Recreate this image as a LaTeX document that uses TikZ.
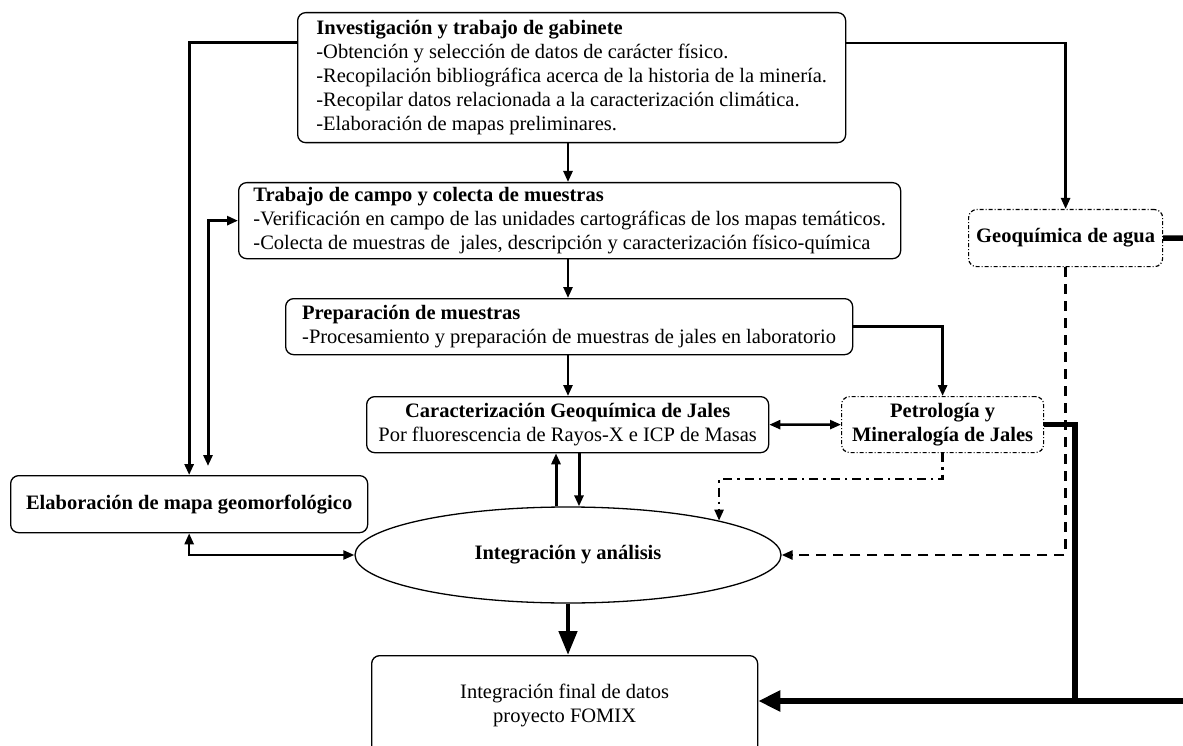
\documentclass[tikz,border=0pt]{standalone}
\usepackage{fontspec}
\setmainfont{Liberation Serif}
\usetikzlibrary{arrows.meta,shapes.geometric,calc}

\begin{document}
\begin{tikzpicture}[x=1pt,y=-1pt,
  every node/.style={font=\fontsize{20.5}{24}\selectfont},
  box/.style={draw, rounded corners=8pt, line width=1.3pt, inner xsep=4pt, inner ysep=2pt,
              align=left, anchor=north west},
  cbox/.style={box, align=center},
  dbox/.style={cbox, dash pattern=on 4pt off 2pt on 1pt off 2pt, line width=1.2pt},
  tip/.style={-{Triangle[length=11pt,width=9pt]}},
  tips/.style={{Triangle[length=11pt,width=9pt]}-{Triangle[length=11pt,width=9pt]}},
  link/.style={tip, line width=2.4pt},
  heavy/.style={line width=5.5pt},
  dashdotline/.style={tip, line width=2.4pt, dash pattern=on 9pt off 5pt on 2.5pt off 5pt},
  dashline/.style={tip, line width=2.6pt, dash pattern=on 10pt off 7pt},
]
\useasboundingbox (0,0) rectangle (1183,746);

% main sequence of work stages
\node[box, minimum width=548, minimum height=130] (gab) at (297,12)
  {\textbf{Investigación y trabajo de gabinete}\\
   -Obtención y selección de datos de carácter físico.\\
   -Recopilación bibliográfica acerca de la historia de la minería.\\
   -Recopilar datos relacionada a la caracterización climática.\\
   -Elaboración de mapas preliminares.};
\node[box, minimum width=662, minimum height=76] (campo) at (238,182)
  {\textbf{Trabajo de campo y colecta de muestras}\\
   -Verificación en campo de las unidades cartográficas de los mapas temáticos.\\
   -Colecta de muestras de\ \ jales, descripción y caracterización físico-química};
\node[box, minimum width=567, minimum height=56] (prep) at (285,298)
  {\textbf{Preparación de muestras}\\
   -Procesamiento y preparación de muestras de jales en laboratorio};
\node[cbox, minimum width=402, minimum height=56] (carac) at (366,396)
  {\textbf{Caracterización Geoquímica de Jales}\\
   Por fluorescencia de Rayos-X e ICP de Masas};

% side analyses
\node[dbox, minimum width=202, minimum height=56] (petro) at (841,396)
  {\textbf{Petrología y}\\ \textbf{Mineralogía de Jales}};
\node[dbox, minimum width=194, minimum height=57] (agua) at (968,209)
  {\textbf{Geoquímica de agua}};
\node[cbox, minimum width=357, minimum height=57] (geomorf) at (10,475)
  {\textbf{Elaboración de mapa geomorfológico}};

% integration
\node[draw, ellipse, line width=1.3pt, minimum width=426, minimum height=96, inner sep=0pt]
  (integ) at (568,555) {\textbf{Integración y análisis}};
\node[cbox, minimum width=386, minimum height=100] (final) at (371,655)
  {\raisebox{5pt}{\begin{tabular}{@{}c@{}}Integración final de datos\\ proyecto FOMIX\end{tabular}}};

% loose ends of the heavy lines at the right margin
\coordinate (edgeA) at (1190,238);
\coordinate (edgeB) at (1190,701);
\coordinate (lowtip) at (208,466);

% connectors
\draw[link] (gab.south -| 568,0) -- (campo.north -| 568,0);
\draw[link] (campo.south -| 568,0) -- (prep.north -| 568,0);
\draw[link] (prep.south -| 568,0) -- (carac.north -| 568,0);
\draw[link] ([yshift=-31pt]gab.north east) -| (agua.north);
\draw[tip, line width=3pt] ([yshift=-31pt]gab.north west) -| (geomorf.north);
\draw[tips, line width=3pt] (lowtip) |- (campo.west);
\draw[tips, line width=2.4pt] (geomorf.south) |- (integ.west);
\draw[tip, line width=3.6pt] (prep.east) -| (petro.north);
\draw[tips, line width=2.4pt] (carac.east) -- (petro.west);
\draw[link, line width=3pt] ([xshift=-12pt]integ.north) -- ([xshift=-12pt]integ.north |- carac.south);
\draw[link, line width=3pt] ([xshift=11pt]integ.north |- carac.south) -- ([xshift=11pt]integ.north);
\draw[dashdotline] (petro.south) -- ++(0,26) -| (integ.north east);
\draw[dashline] (agua.south) |- (integ.east);
\draw[-{Triangle[length=24pt,width=18pt]}, line width=4.6pt] (integ.south) -- (integ.south |- final.north);
\draw[heavy] (agua.east) -- (edgeA);
\draw[heavy] (petro.east) -| ([xshift=31pt]petro.east |- edgeB);
\draw[-{Triangle[length=22pt,width=20pt]}, line width=6pt] (edgeB) -- (final.east |- edgeB);
\end{tikzpicture}
\end{document}
